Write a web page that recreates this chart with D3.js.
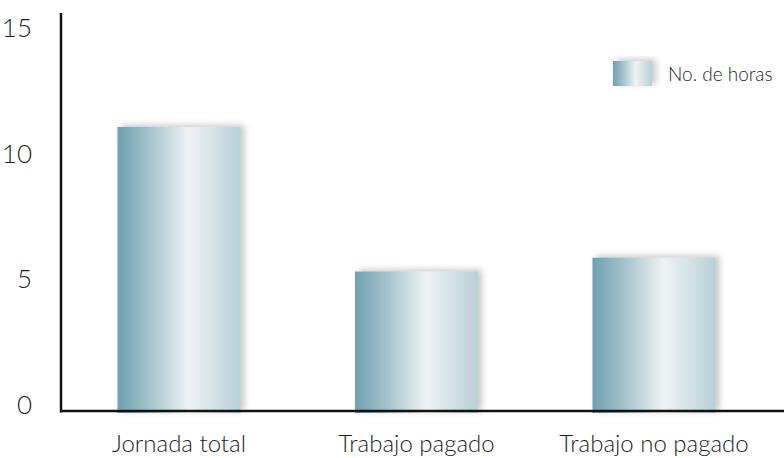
<!DOCTYPE html>
<html><head><meta charset="utf-8">
<script src="https://cdn.jsdelivr.net/npm/d3@7"></script>
<style>
body{margin:0;background:#fff;}
text{font-family:Lato,"DejaVu Sans Condensed",sans-serif;font-weight:300;fill:#1e1e1e;}
</style></head>
<body>
<svg id="c" width="784" height="458"></svg>
<script>
const categories = ["Jornada total", "Trabajo pagado", "Trabajo no pagado"];
const values = [11.3, 5.55, 6.1];
const yTicks = [0, 5, 10, 15];
const seriesName = "No. de horas";

const svg = d3.select("#c");
const defs = svg.append("defs");
const grad = defs.append("linearGradient").attr("id","g").attr("x1","0").attr("x2","1").attr("y1","0").attr("y2","0");
[[0,"#6ea1b1"],[0.25,"#a2c1ca"],[0.58,"#eef3f5"],[1,"#b8d0d7"]].forEach(([o,c])=>grad.append("stop").attr("offset",o).attr("stop-color",c));
const f = defs.append("filter").attr("id","sh").attr("x","-20%").attr("y","-20%").attr("width","150%").attr("height","140%");
f.append("feDropShadow").attr("dx",4).attr("dy",-2).attr("stdDeviation",3).attr("flood-color","#888").attr("flood-opacity",0.45);

const x = d3.scaleBand().domain(categories).range([3, 830]).paddingInner(0.482).paddingOuter(0.482);
const y = d3.scaleLinear().domain([0, 15]).range([411, 34]);

svg.selectAll("rect.bar").data(values).join("rect").attr("class","bar")
  .attr("x",(d,i)=>x(categories[i])).attr("width",x.bandwidth())
  .attr("y",d=>y(d)).attr("height",d=>y(0)-y(d)+2)
  .attr("fill","url(#g)").attr("filter","url(#sh)");

// axes
svg.append("line").attr("x1",61).attr("x2",61).attr("y1",13).attr("y2",y(0)+1.5).attr("stroke","#111").attr("stroke-width",2.5);
svg.append("line").attr("x1",60).attr("x2",784).attr("y1",y(0)).attr("y2",y(0)).attr("stroke","#111").attr("stroke-width",2.5);

svg.selectAll("text.yt").data(yTicks).join("text").attr("class","yt")
  .attr("x",32).attr("y",d=>y(d)-6).attr("dy","0.35em").attr("text-anchor","end")
  .attr("font-size",26).text(d=>d);

svg.selectAll("text.xt").data(categories).join("text").attr("class","xt")
  .attr("x",d=>x(d)+x.bandwidth()/2).attr("y",452).attr("text-anchor","middle")
  .attr("font-size",24).text(d=>d);

// legend
svg.append("rect").attr("x",613).attr("y",61).attr("width",39).attr("height",25).attr("fill","url(#g)").attr("filter","url(#sh)");
svg.append("text").attr("x",668).attr("y",74).attr("dy","0.35em").attr("font-size",19).text(seriesName);
</script>
</body></html>
